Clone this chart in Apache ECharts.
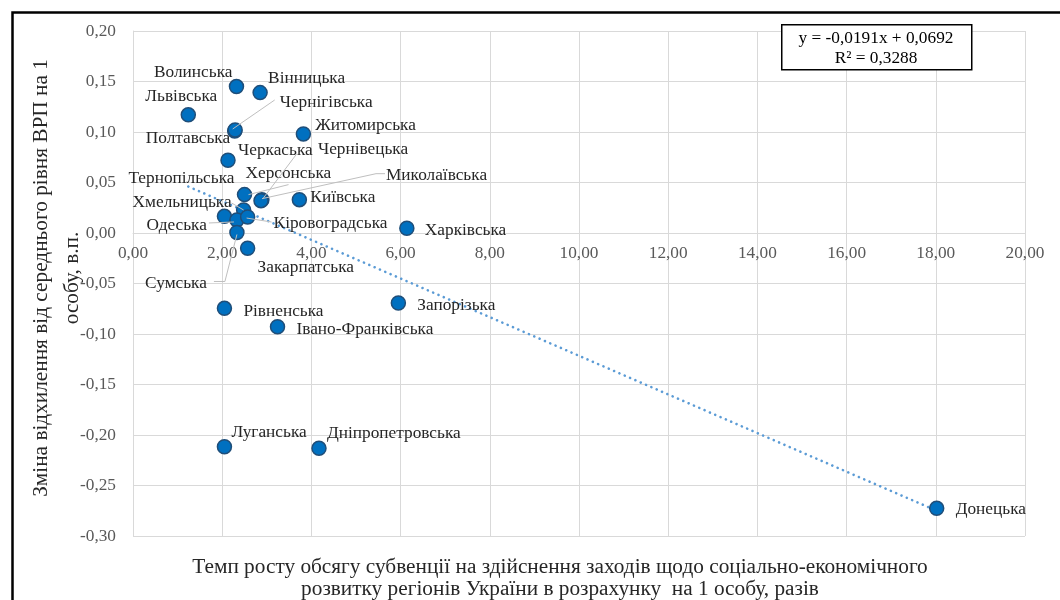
<!DOCTYPE html>
<html><head><meta charset="utf-8">
<script src="https://cdn.jsdelivr.net/npm/echarts@6/dist/echarts.min.js"></script>
<style>html,body{margin:0;padding:0;background:#fff}#c{width:1060px;height:600px}</style>
</head><body><div id="c"></div>
<script>
// ---- data ----
const regions = ['Волинська','Вінницька','Львівська','Чернігівська','Полтавська','Житомирська','Черкаська','Чернівецька','Миколаївська','Херсонська','Тернопільська','Хмельницька','Київська','Одеська','Кіровоградська','Сумська','Харківська','Закарпатська','Рівненська','Івано-Франківська','Запорізька','Луганська','Дніпропетровська','Донецька'];
const xValues = [2.32, 2.85, 1.24, 2.28, 2.29, 3.82, 2.13, 2.89, 2.87, 2.50, 2.05, 2.48, 3.73, 2.33, 2.57, 2.33, 6.14, 2.57, 2.05, 3.24, 5.95, 2.05, 4.17, 18.02];
const yValues = [0.145, 0.139, 0.117, 0.101, 0.102, 0.098, 0.072, 0.033, 0.032, 0.038, 0.0165, 0.0228, 0.033, 0.0129, 0.0158, 0.0005, 0.0047, -0.0151, -0.0746, -0.0928, -0.0693, -0.2116, -0.2132, -0.2726];
const trendX = [1.24, 18.02];
const trendY = [0.046, -0.275];
const xAxisRange = [0, 20, 2];
const yAxisRange = [-0.30, 0.20, 0.05];
const equationText = 'y = -0,0191x + 0,0692\nR² = 0,3288';
const xTitle = 'Темп росту обсягу субвенції на здійснення заходів щодо соціально-економічного\nрозвитку регіонів України в розрахунку  на 1 особу, разів';
const yTitle = 'Зміна відхилення від середнього рівня ВРП на 1\nособу, в.п.';

// ---- label layout (style only): [dx, dy, align] from the point centre ----
const labelCfg = {
  'Волинська':[-4,-14,'right'], 'Вінницька':[8,-14,'left'], 'Львівська':[-7,-18,'center'],
  'Чернігівська':[45,-29,'left'], 'Полтавська':[-5,8,'right'], 'Житомирська':[12,-9,'left'],
  'Черкаська':[10,-10,'left'], 'Чернівецька':[56,-50,'left'], 'Миколаївська':[125,-25,'left'],
  'Херсонська':[1,-21,'left'], 'Тернопільська':[10,-38,'right'], 'Хмельницька':[-12,-8,'right'],
  'Київська':[11,-2,'left'], 'Одеська':[-30,5,'right'], 'Кіровоградська':[26,6,'left'],
  'Сумська':[-30,51,'right'], 'Харківська':[18,2,'left'], 'Закарпатська':[10,19,'left'],
  'Рівненська':[19,3,'left'], 'Івано-Франківська':[19,3,'left'], 'Запорізька':[19,2,'left'],
  'Луганська':[7,-14,'left'], 'Дніпропетровська':[8,-15,'left'], 'Донецька':[19,1,'left']
};
// leader lines, relative to point centre (px)
const leaderCfg = {
  'Чернігівська':[[40,-31],[-2,-2]],
  'Херсонська':[[44,-10],[4,0]],
  'Чернівецька':[[35,-46],[1,-1]],
  'Миколаївська':[[124,-27],[115,-27],[1,-2]],
  'Хмельницька':[[-12,-7],[0,0]],
  'Одеська':[[-28,3],[-3,2]],
  'Кіровоградська':[[24,5],[-1,1]],
  'Сумська':[[-23,49],[-12,49],[0,2]]
};

const FONT = "'Liberation Serif','Times New Roman',serif";
const fmt = v => v.toFixed(2).replace('.', ',').replace('-0,00','0,00');

const GRID = {left:133, top:31, width:892, height:505};
// x axis crosses the y axis at value 0
const xAxisOffset = -GRID.height * (0 - yAxisRange[0]) / (yAxisRange[1] - yAxisRange[0]);

const chart = echarts.init(document.getElementById('c'), null, {renderer:'canvas'});
const scatterData = regions.map((n,i) => ({name:n, value:[xValues[i], yValues[i]]}));
const trendData = trendX.map((x,i) => [x, trendY[i]]);

const option = {
  animation:false,
  backgroundColor:'#fff',
  grid:Object.assign({containLabel:false}, GRID),
  xAxis:{type:'value', min:xAxisRange[0], max:xAxisRange[1], interval:xAxisRange[2],
    position:'bottom', offset:xAxisOffset,
    axisLine:{show:true, onZero:false, lineStyle:{color:'#D9D9D9', width:1}},
    axisTick:{show:false},
    axisLabel:{formatter:fmt, color:'#595959', fontFamily:FONT, fontSize:17.3, margin:12},
    splitLine:{show:true, lineStyle:{color:'#D9D9D9', width:1}}
  },
  yAxis:{type:'value', min:yAxisRange[0], max:yAxisRange[1], interval:yAxisRange[2],
    axisLine:{show:true, onZero:false, lineStyle:{color:'#D9D9D9', width:1}},
    axisTick:{show:false},
    axisLabel:{formatter:fmt, color:'#595959', fontFamily:FONT, fontSize:17.3, margin:17},
    splitLine:{show:true, lineStyle:{color:'#D9D9D9', width:1}}
  },
  series:[
    {type:'line', data:trendData, symbol:'none', silent:true, z:1,
     lineStyle:{color:'#5B9BD5', width:2.6, type:[0.1,5.7], cap:'round'}},
    {type:'scatter', data:scatterData, symbol:'circle', symbolSize:14, z:3,
     itemStyle:{color:'#0070C0', borderColor:'#1F4E79', borderWidth:1.5, opacity:1},
     label:{show:true, formatter:'{b}', color:'#262626', fontFamily:FONT, fontSize:17.3},
     labelLayout:function(p){
       const c = labelCfg[regions[p.dataIndex]];
       const cx = p.rect.x + p.rect.width/2, cy = p.rect.y + p.rect.height/2;
       return {x:cx + c[0], y:cy + c[1], align:c[2], verticalAlign:'middle'};
     }
    }
  ],
  graphic:[
    {type:'rect', left:10, top:10, z:100, shape:{x:0,y:0,width:1100,height:700},
     style:{fill:'none', stroke:'#000', lineWidth:2.5}},
    {type:'rect', left:781, top:24, z:100, shape:{x:0,y:0,width:190,height:45},
     style:{fill:'#fff', stroke:'#000', lineWidth:1.5}},
    {type:'text', x:876, y:48, z:101, style:{text:equationText, align:'center', verticalAlign:'middle', font:'17.3px '+FONT, fill:'#000', lineHeight:20}},
    {type:'text', x:560, y:578, z:100, style:{text:xTitle, align:'center', verticalAlign:'middle', font:'21.3px '+FONT, fill:'#262626', lineHeight:22}},
    {type:'text', x:57, y:278, rotation:Math.PI/2, z:100, style:{text:yTitle, align:'center', verticalAlign:'middle', font:'21.3px '+FONT, fill:'#262626', lineHeight:31}}
  ]
};
chart.setOption(option);

// leader lines computed from the data point positions
const lines = [];
regions.forEach((n,i) => {
  const pts = leaderCfg[n];
  if (!pts) return;
  const p = chart.convertToPixel({gridIndex:0}, [xValues[i], yValues[i]]);
  lines.push({type:'polyline', z:120, silent:true,
    shape:{points:pts.map(d => [p[0]+d[0], p[1]+d[1]])},
    style:{stroke:'#BFBFBF', lineWidth:1, fill:null}});
});
chart.setOption({graphic:option.graphic.concat(lines)});
</script></body></html>
